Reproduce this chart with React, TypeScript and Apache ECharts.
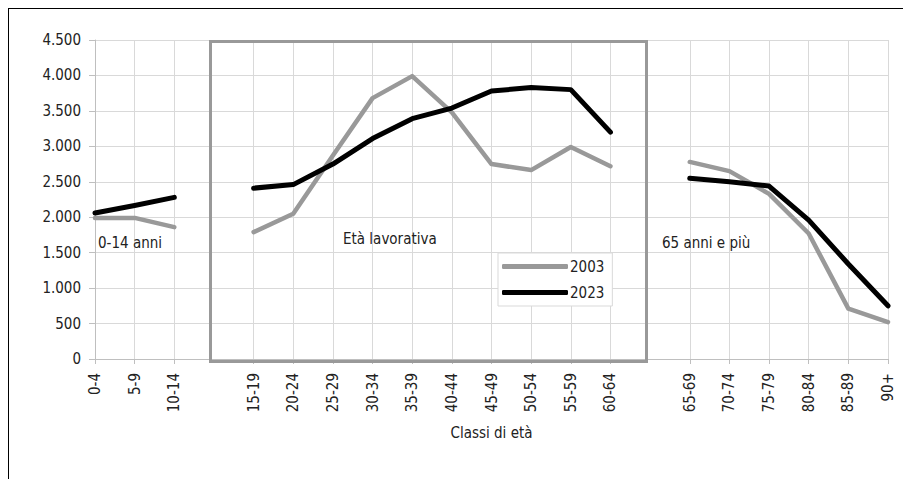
import React, { useEffect, useRef } from "react";
import * as echarts from "echarts";

const categories = [
  "0-4", "5-9", "10-14", "",
  "15-19", "20-24", "25-29", "30-34", "35-39", "40-44", "45-49", "50-54", "55-59", "60-64", "",
  "65-69", "70-74", "75-79", "80-84", "85-89", "90+",
];

const series2003 = [
  1990, 1990, 1860, null,
  1790, 2050, 2870, 3680, 3990, 3480, 2750, 2665, 2990, 2720, null,
  2780, 2650, 2330, 1770, 710, 520,
];

const series2023 = [
  2060, 2165, 2280, null,
  2410, 2460, 2750, 3110, 3390, 3540, 3780, 3830, 3800, 3200, null,
  2550, 2500, 2440, 1960, 1340, 750,
];

const yTicks = { min: 0, max: 4500, interval: 500 };

const FONT = "'DejaVu Sans Condensed', 'Liberation Sans Narrow', 'Liberation Sans', sans-serif";
const FS = 15;

function fmt(v: number) {
  return String(v).replace(/\B(?=(\d{3})+(?!\d))/g, ".");
}

export default function App() {
  const ref = useRef<HTMLDivElement>(null);
  useEffect(() => {
    if (!ref.current) return;
    const chart = echarts.init(ref.current, undefined, { renderer: "svg" });
    chart.setOption({
      animation: false,
      backgroundColor: "#ffffff",
      textStyle: { fontFamily: FONT },
      grid: { left: 95, right: 15, top: 40, bottom: 120 },
      legend: {
        orient: "vertical",
        left: 498,
        top: 253,
        backgroundColor: "#ffffff",
        borderColor: "#d9d9d9",
        borderWidth: 1,
        padding: [6, 8, 6, 4],
        itemGap: 11,
        itemWidth: 66,
        itemHeight: 5,
        icon: "roundRect",
        textStyle: { fontFamily: FONT, fontSize: FS, color: "#222", padding: [0, 0, 0, -3] },
        data: ["2003", "2023"],
      },
      xAxis: {
        type: "category",
        data: categories,
        boundaryGap: false,
        name: "Classi di età",
        nameLocation: "middle",
        nameGap: 66,
        nameTextStyle: { fontFamily: FONT, fontSize: FS, color: "#222" },
        axisLine: { show: true, lineStyle: { color: "#bfbfbf", width: 1 } },
        axisTick: {
          show: true,
          interval: (i: number) => categories[i] !== "",
          length: 5,
          lineStyle: { color: "#bfbfbf" },
        },
        axisLabel: {
          interval: 0,
          rotate: 90,
          margin: 14,
          fontFamily: FONT,
          fontSize: FS,
          color: "#222",
        },
        splitLine: {
          show: true,
          interval: (i: number) => categories[i] !== "",
          lineStyle: { color: "#d9d9d9", width: 1 },
        },
      },
      yAxis: {
        type: "value",
        min: yTicks.min,
        max: yTicks.max,
        interval: yTicks.interval,
        axisLine: { show: true, lineStyle: { color: "#bfbfbf" } },
        axisTick: { show: true, length: 6, lineStyle: { color: "#bfbfbf" } },
        axisLabel: {
          margin: 14,
          fontFamily: FONT,
          fontSize: FS,
          color: "#222",
          formatter: (v: number) => fmt(v),
        },
        splitLine: { show: true, lineStyle: { color: "#d9d9d9", width: 1 } },
      },
      series: [
        {
          name: "2003",
          type: "line",
          data: series2003,
          showSymbol: false,
          symbol: "none",
          connectNulls: false,
          itemStyle: { color: "#999999" },
          lineStyle: { color: "#999999", width: 4.5, cap: "round", join: "round" },
          z: 3,
        },
        {
          name: "2023",
          type: "line",
          data: series2023,
          showSymbol: false,
          symbol: "none",
          connectNulls: false,
          itemStyle: { color: "#000000" },
          lineStyle: { color: "#000000", width: 5, cap: "round", join: "round" },
          z: 4,
        },
      ],
      graphic: [
        {
          type: "rect",
          shape: { x: 210.5, y: 41.5, width: 436, height: 320 },
          style: { fill: "none", stroke: "#999999", lineWidth: 3 },
          z: 2,
        },
        {
          type: "text",
          x: 98,
          y: 243,
          style: { text: "0-14 anni", fontFamily: FONT, fontSize: FS, fill: "#222", verticalAlign: "middle" },
          z: 5,
        },
        {
          type: "text",
          x: 343,
          y: 239,
          style: { text: "Età lavorativa", fontFamily: FONT, fontSize: FS, fill: "#222", verticalAlign: "middle" },
          z: 5,
        },
        {
          type: "text",
          x: 662,
          y: 243,
          style: { text: "65 anni e più", fontFamily: FONT, fontSize: FS, fill: "#222", verticalAlign: "middle" },
          z: 5,
        },
      ],
    });
    return () => chart.dispose();
  }, []);

  return (
    <div style={{ position: "fixed", left: 0, top: 0, width: 903, height: 479, overflow: "hidden", background: "#fff" }}>
      <div ref={ref} style={{ position: "absolute", left: 0, top: 0, width: 903, height: 479 }} />
      <div
        style={{
          position: "absolute",
          left: 8,
          top: 8,
          width: 895,
          height: 471,
          borderTop: "1px solid #000",
          borderLeft: "1px solid #000",
          boxSizing: "border-box",
          pointerEvents: "none",
        }}
      />
    </div>
  );
}
